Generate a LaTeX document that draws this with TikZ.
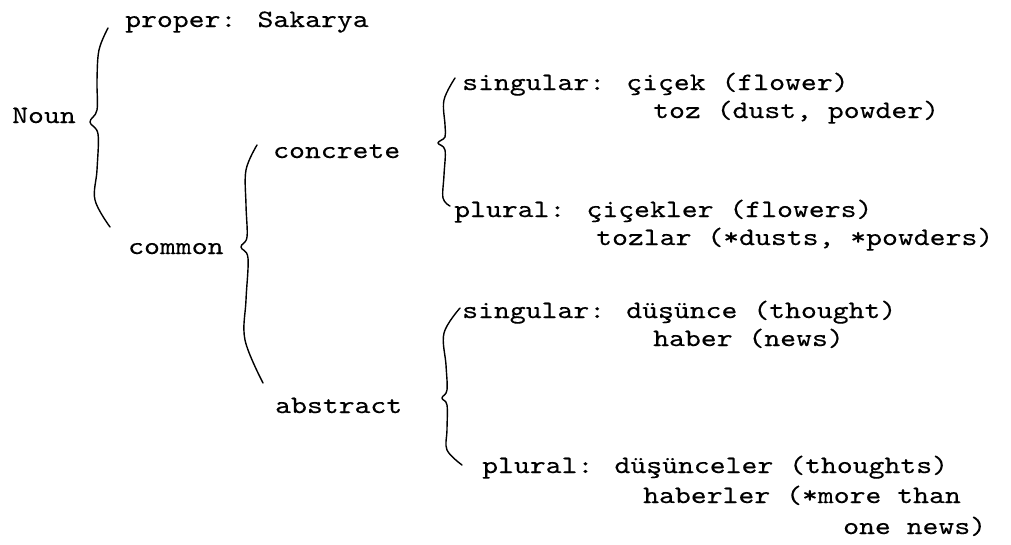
\documentclass[tikz,border=0pt]{standalone}
\usepackage{fontspec}
% typewriter face, widened to a 10-pitch grid and inked a little darker
\newfontfamily\typewriter{lmmono10-regular.otf}[FakeStretch=1.21,FakeBold=0.25]
\begin{document}
\begin{tikzpicture}[x=1pt,y=-1pt,
  lbl/.style={anchor=base west,inner sep=0pt,font=\typewriter\fontsize{25}{30}\selectfont},
  brace/.style={line width=1.4pt,line cap=round,line join=round}]
\useasboundingbox (0,0) rectangle (1011,544);
% labels
\node[lbl] (noun) at (12,123) {Noun};
\node[lbl] (proper) at (125,27) {proper: Sakarya};
\node[lbl] (common) at (128,254) {common};
\node[lbl] (concrete) at (273,158) {concrete};
\node[lbl] (abstract) at (275,413) {abstract};
\node[lbl] (sgA) at (462,90) {singular: çiçek (flower)};
\node[lbl] (sgB) at (653,118) {toz (dust, powder)};
\node[lbl] (plA) at (454,217) {plural: çiçekler (flowers)};
\node[lbl] (plB) at (596,245) {tozlar (*dusts, *powders)};
\node[lbl] (sgC) at (462,318) {singular: düşünce (thought)};
\node[lbl] (sgD) at (653,346) {haber (news)};
\node[lbl] (plC) at (482,473) {plural: düşünceler (thoughts)};
\node[lbl] (plD) at (643,503) {haberler (*more than};
\node[lbl] (plE) at (843,534) {one news)};
% braces
\draw[brace] plot[smooth,tension=0.6] coordinates
  {(108,28) (99,50) (97,80) (97,110) (90,122) (98,134) (97,170) (95,200) (110,227)};
\draw[brace] plot[smooth,tension=0.6] coordinates
  {(257,145) (246,170) (246,205) (247,237) (241,247) (248,258) (246,300) (245,340) (263,383)};
\draw[brace] plot[smooth,tension=0.6] coordinates
  {(455,78) (444,100) (445,125) (445,137) (438,143) (445,150) (444,175) (443,198) (450,206)};
\draw[brace] plot[smooth,tension=0.6] coordinates
  {(460,308) (444,333) (446,365) (447,390) (442,398) (447,405) (447,430) (447,450) (462,465)};
\end{tikzpicture}
\end{document}
